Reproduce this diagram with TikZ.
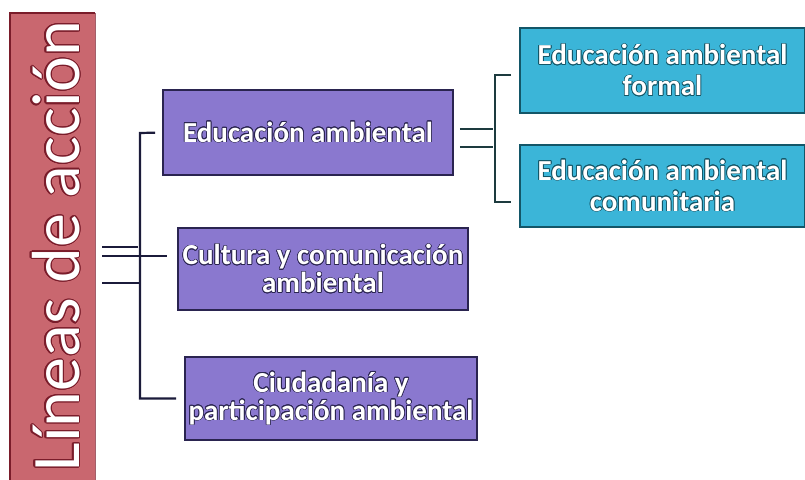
\documentclass[tikz,border=0pt]{standalone}
\usepackage{fontspec}
\setmainfont{Carlito}
\usepackage[copies]{contour}
\definecolor{barred}{HTML}{C9676F}
\definecolor{bardark}{HTML}{7A1C2A}
\definecolor{purp}{HTML}{8A78CF}
\definecolor{purpdark}{HTML}{2A2450}
\definecolor{cyanb}{HTML}{3BB5D8}
\definecolor{cyandark}{HTML}{135668}
\definecolor{navy}{HTML}{1B1B3A}
\definecolor{tealdark}{HTML}{1D3B3F}
\contourlength{0.7pt}
\newcommand{\pc}[1]{\contour{purpdark}{#1}}
\newcommand{\cc}[1]{\contour{cyandark}{#1}}
\tikzset{
  pbox/.style={draw=purpdark, line width=1.6pt, fill=purp, text=white, inner sep=0pt,
    font=\bfseries\fontsize{29}{28}\selectfont, align=center},
  cbox/.style={draw=cyandark, line width=1.6pt, fill=cyanb, text=white, inner sep=0pt,
    font=\bfseries\fontsize{29}{31}\selectfont, align=center},
  conn/.style={draw=navy, line width=2.2pt},
  rconn/.style={draw=tealdark, line width=2.2pt}
}
\begin{document}
\begin{tikzpicture}[x=1pt,y=-1pt]
\useasboundingbox (0,0) rectangle (805,479);
% red bar
\fill[barred] (10,13) rectangle (95,482);
\draw[bardark, line width=2pt] (10,482) -- (10,13) -- (95,13);
\draw[bardark!70, line width=1pt] (95,13) -- (95,482);
\node[rotate=90, anchor=base, text=white, font=\fontsize{68}{68}\selectfont] (title) at (79,246)
  {\contourlength{1.1pt}\contour{bardark}{Líneas de acción}};
% purple boxes
\node[pbox, minimum width=290pt, minimum height=85pt] (b1) at (308,132.5) {\pc{Educación ambiental}};
\node[pbox, minimum width=290pt, minimum height=82pt] (b2) at (323,269) {\pc{Cultura y comunicación}\\\pc{ambiental}};
\node[pbox, minimum width=292pt, minimum height=83pt] (b3) at (331,398.5) {\pc{Ciudadanía y}\\\pc{participación ambiental}};
% cyan boxes
\node[cbox, minimum width=285pt, minimum height=85pt] (c1) at (662.5,70.5) {\cc{Educación ambiental}\\\cc{formal}};
\node[cbox, minimum width=285pt, minimum height=82pt] (c2) at (662.5,186) {\cc{Educación ambiental}\\\cc{comunitaria}};
% left connectors
\coordinate (tl) at (140,133);
\coordinate (bl) at (140,398.5);
\coordinate (l1) at (102,247);
\coordinate (l2) at (102,256);
\coordinate (l3) at (102,283);
\coordinate (m1) at (138,247);
\coordinate (m2) at (167,256);
\coordinate (m3) at (140,283);
\draw[conn, shorten <=7pt, shorten >=8pt] (b1.west) -- (tl) -- (bl) -- (b3.west);
\draw[conn] (l1) -- (m1);
\draw[conn] (l2) -- (m2);
\draw[conn] (l3) -- (m3);
% right connectors
\coordinate (r1) at (493,129);
\coordinate (r2) at (493,147);
\coordinate (rt) at (495,75);
\coordinate (rb) at (495,202);
\coordinate (t1) at (511,75);
\coordinate (t2) at (511,202);
\draw[rconn, shorten <=6pt] (b1.east |- r1) -- (r1);
\draw[rconn, shorten <=6pt] (b1.east |- r2) -- (r2);
\draw[rconn] (t1) -- (rt) -- (rb) -- (t2);
\end{tikzpicture}
\end{document}
